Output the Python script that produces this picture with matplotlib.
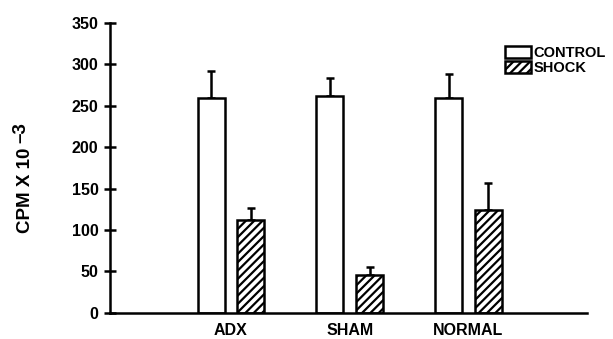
import matplotlib
matplotlib.use("Agg")
import matplotlib.pyplot as plt
import numpy as np

plt.rcParams['font.family'] = ['Liberation Sans', 'DejaVu Sans']
plt.rcParams['hatch.linewidth'] = 1.6

groups = ["ADX", "SHAM", "NORMAL"]
control = [260, 262, 260]
control_err = [32, 22, 29]
shock = [112, 46, 124]
shock_err = [15, 10, 33]
yticks = [0, 50, 100, 150, 200, 250, 300, 350]

W, H = 613, 339
fig = plt.figure(figsize=(W / 100, H / 100), dpi=100)
ax = fig.add_axes([0.179, 0.077, 0.779, 0.855])

x = np.arange(len(groups))
w = 0.228
off = 0.167
ax.bar(x - off, control, w, color='white', edgecolor='black', linewidth=1.8,
       label='CONTROL', zorder=2)
ax.bar(x + off, shock, w, color='white', edgecolor='black', linewidth=1.8,
       hatch='////', label='SHOCK', zorder=2)
ax.errorbar(x - off, control, yerr=[np.zeros(3), control_err], fmt='none',
            ecolor='black', elinewidth=1.8, capsize=3, capthick=1.8, zorder=1)
ax.errorbar(x + off, shock, yerr=[np.zeros(3), shock_err], fmt='none',
            ecolor='black', elinewidth=1.8, capsize=3, capthick=1.8, zorder=1)

ax.set_xlim(-1.02, 3.0)
ax.set_ylim(0, 350)
ax.set_yticks(yticks)
ax.set_yticklabels([str(v) for v in yticks], fontsize=11.5, fontweight='bold')
ax.set_xticks(x)
ax.set_xticklabels(groups, fontsize=11.5, fontweight='bold')
ax.tick_params(axis='x', length=0, pad=7)
ax.tick_params(axis='y', direction='inout', length=8, width=1.8, pad=4)
for s in ['top', 'right']:
    ax.spines[s].set_visible(False)
for s in ['left', 'bottom']:
    ax.spines[s].set_linewidth(1.8)

# y-axis label: "CPM X 10" with a raised, near full-size "-3"
fig.text(25 / W, 1 - 233 / H, "CPM X 10", rotation=90, ha='center', va='bottom',
         fontsize=13.5, fontweight='bold')
fig.text(21 / W, 1 - 143 / H, "\u20133", rotation=90, ha='center', va='bottom',
         fontsize=13.5, fontweight='bold')

leg = ax.legend(loc='upper left', bbox_to_anchor=(505 / W, 1 - 46 / H),
                bbox_transform=fig.transFigure,
                frameon=False, fontsize=10.5, handlelength=1.8, handleheight=0.9,
                handletextpad=0.15, labelspacing=0.05, borderaxespad=0, borderpad=0)
for t in leg.get_texts():
    t.set_fontweight('bold')

fig.savefig("out.png", dpi=100)
